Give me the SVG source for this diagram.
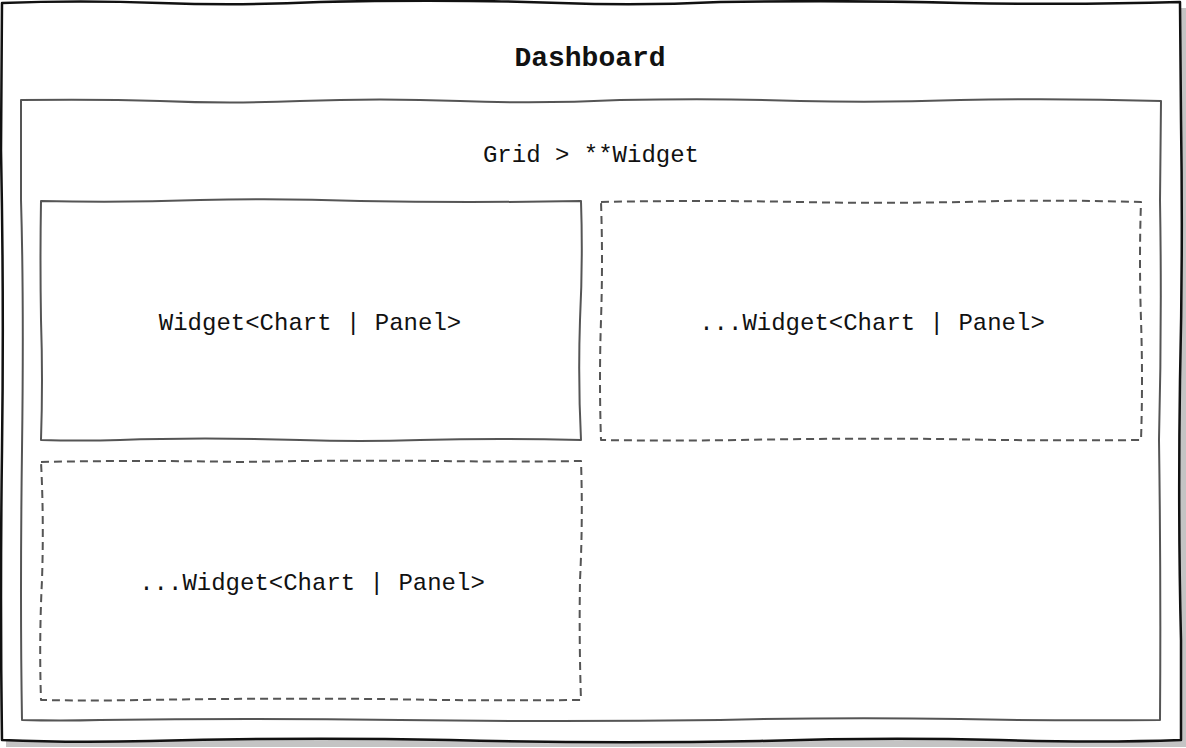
<svg xmlns="http://www.w3.org/2000/svg" width="1186" height="748" viewBox="0 0 1186 748">
<style>
.t{font-family:"Liberation Mono","Courier New",monospace;font-size:24px;fill:#111;text-anchor:middle}
.title{font-weight:bold;font-size:28px}
.box{fill:none;stroke:#555;stroke-width:2;stroke-linejoin:round}
.dash{stroke-dasharray:8 5}
</style>
<rect width="1186" height="748" fill="#fff"/>
<g id="dashboard">
<path d="M6,8 L1186,8 L1186,747 L6,747 Z" fill="#c4c4c4"/>
<path d="M2,3 Q80,0 160,3 Q240,6 320,2 Q450,-1 560,3 Q640,6 720,2 Q850,0 960,3 Q1080,5 1180,2 L1181,120 Q1183,250 1180,380 Q1178,520 1181,640 L1181,740 Q1100,743 1000,740 Q880,737 760,741 Q600,744 450,740 Q300,737 150,741 Q70,743 2,740 Q0,600 2,450 Q4,300 1,150 Z" fill="#fff" stroke="#111" stroke-width="2.5" stroke-linejoin="round"/>
<text class="t title" x="590" y="66">Dashboard</text>
</g>
<g id="grid">
<path class="box" d="M21,100 Q100,99 160,101 Q230,104 300,101 Q380,98 460,101 Q540,104 620,100 Q720,98 800,101 Q880,103 960,100 Q1060,98 1161,101 L1160,200 Q1162,320 1159,440 Q1161,580 1160,720 Q1060,721 960,719 Q840,717 720,720 Q560,722 400,720 Q250,718 100,720 Q60,721 22,720 Q20,600 22,450 Q24,300 21,200 Z"/>
<text class="t" x="591" y="162">Grid &gt; **Widget</text>
</g>
<g id="widget1">
<path class="box" d="M41,201 Q120,203 200,200 Q280,198 360,201 Q470,203 581,201 Q583,260 580,320 Q578,380 581,440 Q500,438 420,440 Q360,442 300,440 Q200,437 120,440 Q80,441 41,440 Q43,380 41,320 Q40,260 41,201 Z"/>
<text class="t" x="310" y="330">Widget&lt;Chart | Panel&gt;</text>
</g>
<g id="widget2">
<path class="box dash" d="M601,202 Q700,200 800,202 Q900,204 1000,201 Q1070,200 1141,202 Q1139,260 1141,320 Q1143,380 1141,440 Q1040,441 940,439 Q840,438 740,440 Q670,441 601,440 Q599,380 601,320 Q603,260 601,202 Z"/>
<text class="t" x="872" y="330">...Widget&lt;Chart | Panel&gt;</text>
</g>
<g id="widget3">
<path class="box dash" d="M41,462 Q140,460 240,462 Q340,460 440,461 Q510,462 581,461 Q583,520 580,580 Q579,640 581,700 Q480,701 380,699 Q260,698 140,700 Q90,701 41,700 Q39,640 42,580 Q44,520 41,462 Z"/>
<text class="t" x="312" y="590">...Widget&lt;Chart | Panel&gt;</text>
</g>
<g id="connectors"></g>
</svg>
